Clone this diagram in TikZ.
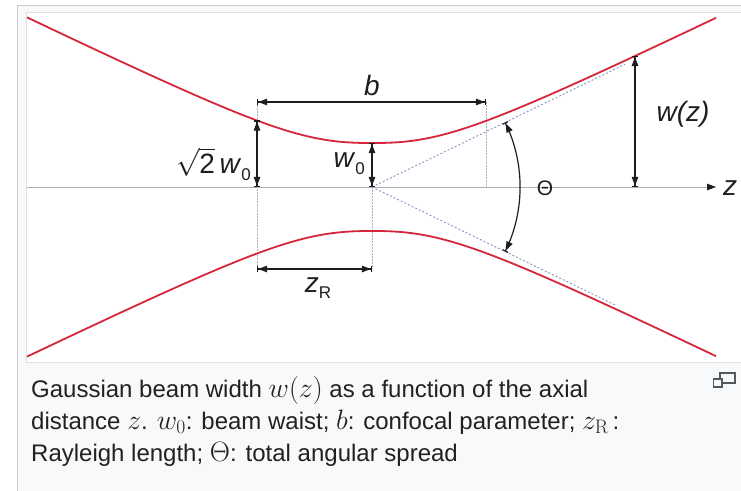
\documentclass[tikz,border=0pt]{standalone}
\usepackage{fix-cm}
\usepackage[no-math]{fontspec}
\setmainfont{Liberation Sans}
\usetikzlibrary{arrows.meta,calc}
\definecolor{beam}{RGB}{214,38,58}
\definecolor{dimc}{RGB}{30,30,30}
\definecolor{guidec}{RGB}{175,175,175}
\definecolor{asymc}{RGB}{135,150,190}
\definecolor{axisc}{RGB}{175,175,175}
\definecolor{thumbbg}{RGB}{248,249,250}
\definecolor{thumbborder}{RGB}{200,204,209}
\definecolor{imgborder}{RGB}{222,224,228}
\definecolor{captxt}{RGB}{32,33,34}
\definecolor{iconc}{RGB}{84,89,93}
\newcommand\capmath[1]{{\fontsize{28}{32}\selectfont$#1$}}
\tikzset{
  declare function={bw(\t)=44*pow(1+pow(abs(\t)*0.485/44+0.0001,2.5),0.4);},
  dim/.style={draw=dimc, line width=1.2pt,
    arrows={Bar[width=6pt] Triangle[length=9pt,width=6.5pt]-Triangle[length=9pt,width=6.5pt] Bar[width=6pt]}},
  guide/.style={draw=guidec, line width=0.6pt, dash pattern=on 1.5pt off 1.5pt},
  asym/.style={draw=asymc, line width=0.9pt, dash pattern=on 2pt off 2pt},
  beamline/.style={draw=beam, line width=1.8pt},
  lbl/.style={font=\fontsize{28}{32}\selectfont, text=dimc, inner sep=0pt},
  captext/.style={font=\fontsize{24}{32}\selectfont, text=captxt, inner sep=0pt, anchor=base west},
}
\begin{document}
\begin{tikzpicture}[x=1pt,y=-1pt]
\useasboundingbox (0,0) rectangle (741,490);
\fill[white] (0,0) rectangle (741,490);
\filldraw[fill=thumbbg, draw=thumbborder, line width=0.8pt] (17.5,5.5) rectangle (760,500);
\filldraw[fill=white, draw=imgborder, line width=0.8pt] (26.5,12.5) rectangle (760,362.5);

% key coordinates
\coordinate (O) at (372,187);
\coordinate (axS) at (27,187);
\coordinate (axE) at (716,187);
\coordinate (zrT) at (257,{187-bw(-115)});
\coordinate (zrA) at (257,187);
\coordinate (w0T) at (372,{187-bw(0)});
\coordinate (wzT) at (635,{187-bw(263)});
\coordinate (wzA) at (635,187);
\coordinate (bL) at (257,102);
\coordinate (bR) at (486,102);
\coordinate (bRA) at (486,187);
\coordinate (rL) at (257,269);
\coordinate (rR) at (372,269);
\coordinate (asT) at (625,{187-0.485*253});
\coordinate (asB) at (615,{187+0.485*243});

% guides
\draw[guide] (bL) -- (rL);
\draw[guide] (O) -- (rR);
\draw[guide] (bR) -- (bRA);
\draw[asym] (O) -- (asT);
\draw[asym] (O) -- (asB);

% axis
\draw[draw=axisc, line width=0.8pt, -{Triangle[length=9pt,width=6.5pt,color=dimc]}] (axS) -- (axE);

% beam
\draw[beamline] plot[domain=27:716, samples=150, smooth] (\x,{187-bw(\x-372)});
\draw[beamline] plot[domain=27:716, samples=150, smooth] (\x,{187+bw(\x-372)});

% dimension arrows
\draw[dim] (bL) -- (bR);
\draw[dim] (zrT) -- (zrA);
\draw[dim] (w0T) -- (O);
\draw[dim] (wzT) -- (wzA);
\draw[dim] (rL) -- (rR);
\draw[dim] (O) ++(-25.88:148pt) arc[start angle=-25.88, end angle=25.88, radius=148pt];

% labels
\node[lbl] (lb) at (372,85) {\itshape b};
\node[lbl, anchor=east] (lsq) at (251,164) {$\sqrt{\mbox{2}}$\,\textit{w}\raisebox{-0.45ex}{\fontsize{17}{17}\selectfont 0}};
\node[lbl, anchor=east] (lw0) at (365,164) {\textit{w}\raisebox{-0.45ex}{\fontsize{17}{17}\selectfont 0}};
\node[lbl] (lzr) at (318,288) {\textit{z}\raisebox{-0.45ex}{\fontsize{17}{17}\selectfont R}};
\node[lbl, font=\fontsize{21}{24}\selectfont] (lth) at (545,188) {Θ};
\node[lbl] (lwz) at (683,114) {\itshape w(z)};
\node[lbl] (lz) at (730,188) {\itshape z};

% caption
\node[captext] (c1) at (31,397) {Gaussian beam width \capmath{w(z)} as a function of the axial};
\node[captext] (c2) at (31,429) {distance \capmath{z}. \capmath{w_0}: beam waist; \capmath{b}: confocal parameter; \capmath{z_\mathrm{R}}\,:};
\node[captext] (c3) at (31,461) {Rayleigh length; \capmath{\Theta}: total angular spread};

% enlarge icon
\draw[iconc, line width=1.2pt] (720,373) rectangle (735,383);
\filldraw[fill=thumbbg, draw=iconc, line width=1.2pt] (713.5,379) rectangle (722,387);
\end{tikzpicture}
\end{document}
